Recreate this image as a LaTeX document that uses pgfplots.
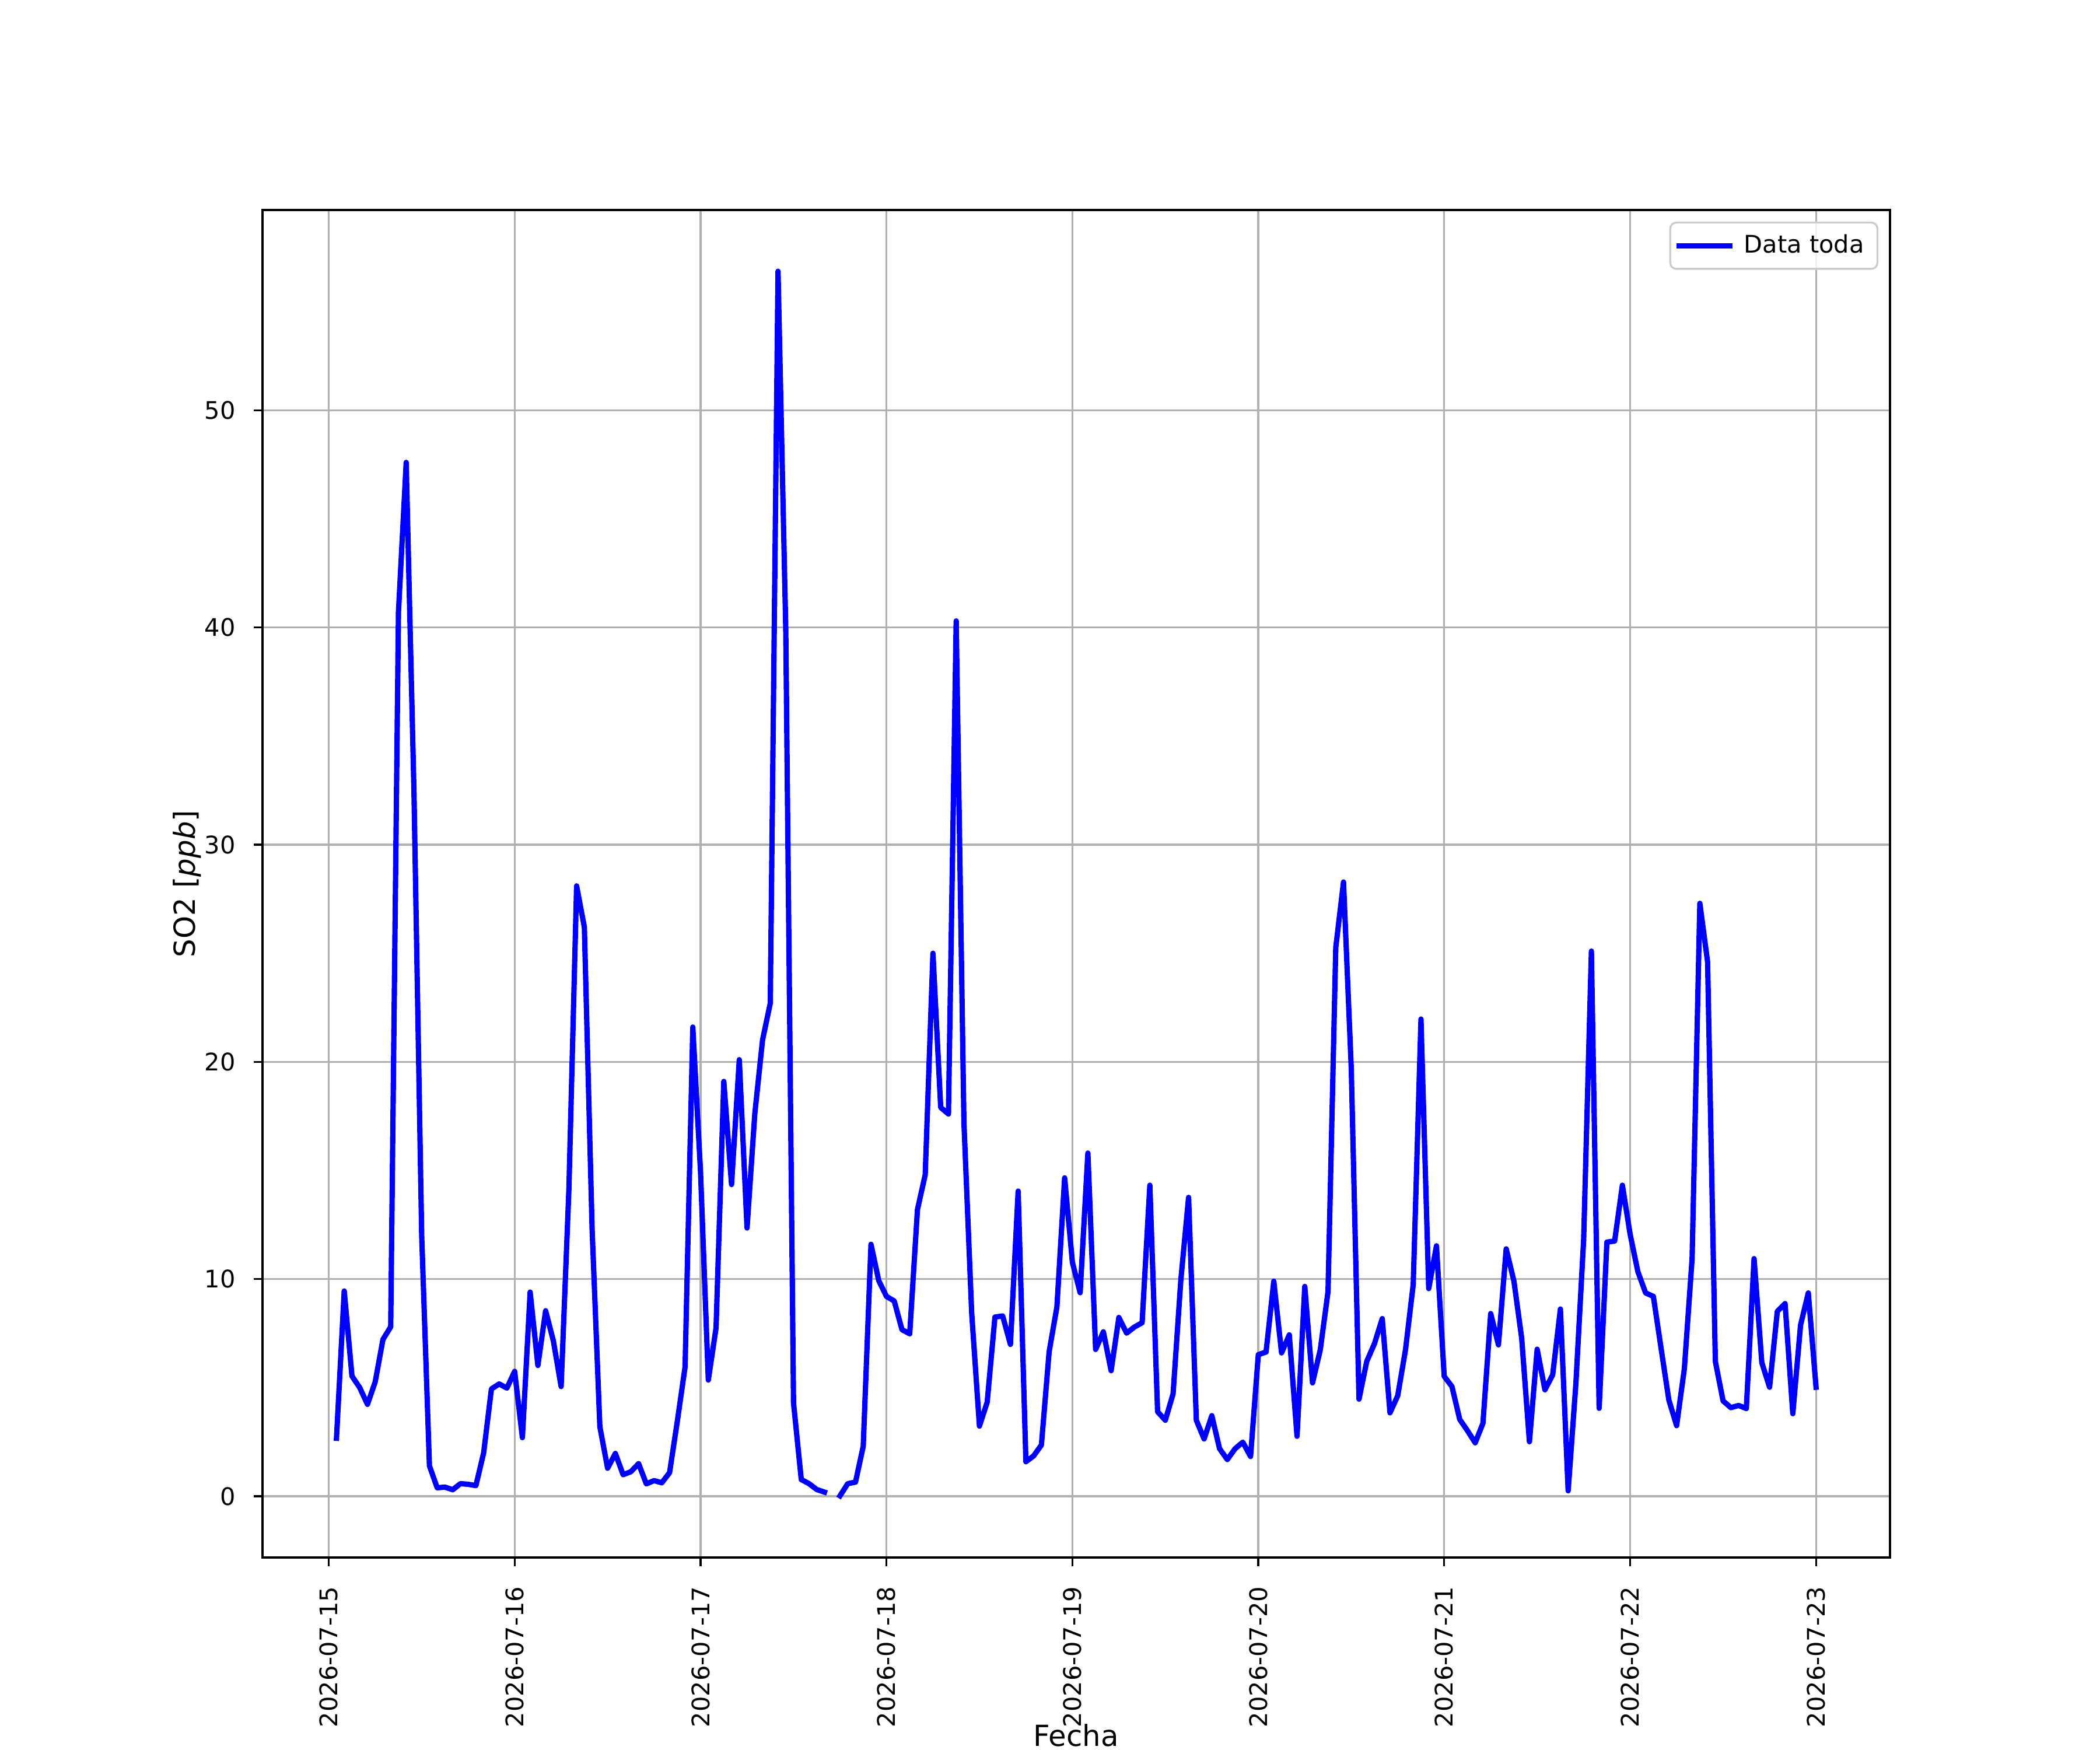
\documentclass[border=0pt]{standalone}
\usepackage{fontspec}
\setmainfont{DejaVu Sans}
\usepackage{pgfplots}
\usepackage{pgfplotstable}
\pgfplotsset{compat=1.18}
\definecolor{gridgray}{HTML}{B0B0B0}
\definecolor{legedge}{HTML}{CCCCCC}
\pgfplotstableread{
h v
1 2.67
2 9.45
3 5.53
4 5.0
5 4.23
6 5.27
7 7.22
8 7.8
9 40.7
10 47.6
11 32.5
12 12.0
13 1.4
14 0.39
15 0.42
16 0.3
17 0.58
18 0.55
19 0.49
20 2.0
21 4.94
22 5.17
23 4.98
24 5.75
25 2.7
26 9.4
27 6.02
28 8.54
29 7.15
30 5.05
31 14.1
32 28.1
33 26.2
34 12.3
35 3.2
36 1.29
37 1.97
38 0.99
39 1.13
40 1.5
41 0.57
42 0.72
43 0.62
44 1.09
45 3.45
46 5.95
47 21.6
48 14.9
49 5.35
50 7.75
51 19.1
52 14.35
53 20.1
54 12.35
55 17.6
56 21.0
57 22.7
58 56.4
59 39.9
60 4.3
61 0.77
62 0.58
63 0.31
64 0.19
65 nan
66 0.02
67 0.58
68 0.65
69 2.3
70 11.6
71 9.93
72 9.2
73 8.99
74 7.67
75 7.48
76 13.2
77 14.8
78 25.0
79 17.9
80 17.6
81 40.3
82 17.2
83 8.44
84 3.23
85 4.33
86 8.25
87 8.3
88 6.99
89 14.05
90 1.59
91 1.86
92 2.36
93 6.66
94 8.71
95 14.66
96 10.77
97 9.37
98 15.8
99 6.76
100 7.57
101 5.78
102 8.23
103 7.51
104 7.79
105 7.99
106 14.32
107 3.89
108 3.5
109 4.72
110 9.96
111 13.76
112 3.5
113 2.64
114 3.71
115 2.19
116 1.69
117 2.19
118 2.49
119 1.83
120 6.52
121 6.64
122 9.9
123 6.6
124 7.43
125 2.76
126 9.66
127 5.22
128 6.74
129 9.42
130 25.26
131 28.28
132 19.7
133 4.47
134 6.21
135 7.03
136 8.18
137 3.84
138 4.63
139 6.74
140 9.75
141 21.97
142 9.56
143 11.53
144 5.52
145 5.05
146 3.54
147 3.02
148 2.46
149 3.36
150 8.41
151 6.97
152 11.39
153 9.9
154 7.28
155 2.51
156 6.77
157 4.9
158 5.59
159 8.62
160 0.25
161 5.2
162 11.82
163 25.1
164 4.05
165 11.7
166 11.75
167 14.32
168 12.06
169 10.34
170 9.36
171 9.2
172 6.8
173 4.43
174 3.25
175 5.87
176 10.94
177 27.3
178 24.6
179 6.21
180 4.39
181 4.08
182 4.18
183 4.04
184 10.94
185 6.15
186 5.02
187 8.51
188 8.87
189 3.8
190 7.88
191 9.36
192 5.02
}\sodata
\begin{document}
\begin{tikzpicture}
\useasboundingbox (0,0) rectangle (12in,10in);
\begin{axis}[
  at={(1.5in,1.1in)}, anchor=south west,
  scale only axis, width=9.3in, height=7.7in,
  xmin=-8.55, xmax=201.55,
  ymin=-2.82, ymax=59.22,
  xtick={0,24,48,72,96,120,144,168,192},
  xticklabels={2026-07-15,2026-07-16,2026-07-17,2026-07-18,2026-07-19,2026-07-20,2026-07-21,2026-07-22,2026-07-23},
  ytick={0,10,20,30,40,50},
  minor tick num=0,
  tick pos=left,
  tick align=outside,
  major tick length=3.5pt,
  every tick/.style={black, line width=0.8pt},
  axis line style={black, line width=0.8pt},
  grid=major,
  major grid style={gridgray, line width=0.8pt},
  /pgf/number format/assume math mode=true,
  xticklabel style={font=\fontsize{10}{12}\selectfont, rotate=90, anchor=east, inner sep=0pt},
  yticklabel style={font=\fontsize{10}{12}\selectfont, anchor=east, inner sep=0pt},
  xticklabel shift=8.3pt,
  yticklabel shift=7.5pt,
  xlabel={Fecha},
  ylabel={SO2 [\textit{ppb}]},
  xlabel style={font=\fontsize{12}{14}\selectfont, at={(axis description cs:0.5,-0.1235)}, anchor=north, inner sep=0pt},
  ylabel style={font=\fontsize{12}{14}\selectfont, at={(axis description cs:-0.0375,0.5)}, anchor=south, inner sep=0pt},
  unbounded coords=jump,
  legend cell align=left,
  legend style={at={(1,1)}, anchor=north east, xshift=-4.8pt, yshift=-4.8pt,
    draw=legedge, line width=0.8pt, rounded corners=2.5pt, fill=white, fill opacity=0.8, text opacity=1,
    inner xsep=2.5pt, inner ysep=3.5pt,
    font=\fontsize{10}{12}\selectfont,
    nodes={inner xsep=3pt, inner ysep=1.5pt},
    /tikz/every odd column/.append style={column sep=1.8pt}},
  legend image code/.code={\draw[#1, line cap=rect] (0pt,0pt) -- (21pt,0pt);},
]
\addplot[color={rgb,255:red,0;green,0;blue,255}, line width=2.2pt, line join=round, line cap=rect, mark=none] table[x=h, y=v] {\sodata};
\addlegendentry{Data toda}
\end{axis}
\end{tikzpicture}
\end{document}
